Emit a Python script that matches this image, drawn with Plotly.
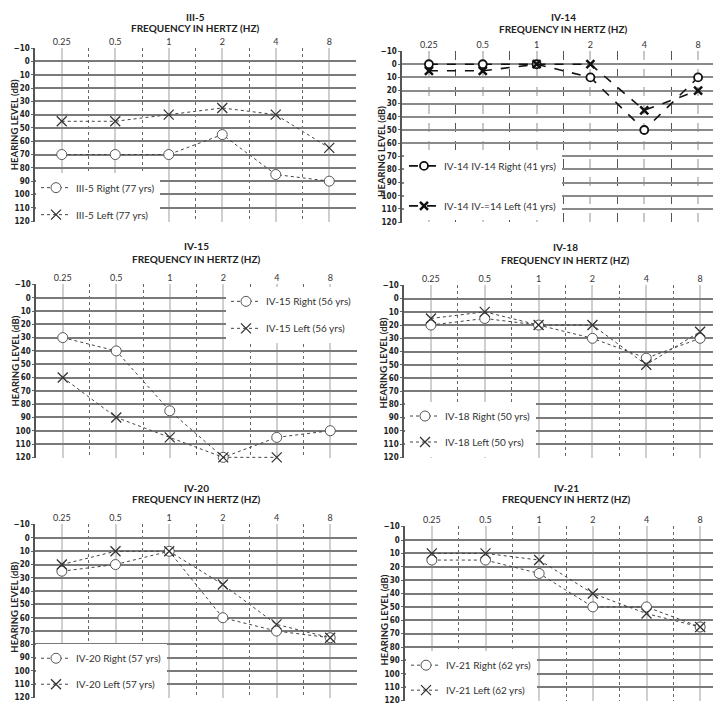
import plotly.graph_objects as go

W, H = 721, 704

freq_labels = ["0.25", "0.5", "1", "2", "4", "8"]
db_ticks = list(range(-10, 130, 10))

panel_names = ["III-5", "IV-14", "IV-15", "IV-18", "IV-20", "IV-21"]

right_vals = [
    [70, 70, 70, 55, 85, 90],
    [0, 0, 0, 10, 50, 10],
    [30, 40, 85, 120, 105, 100],
    [20, 15, 20, 30, 45, 30],
    [25, 20, 10, 60, 70, 75],
    [15, 15, 25, 50, 50, 65],
]
left_vals = [
    [45, 45, 40, 35, 40, 65],
    [5, 5, 0, 0, 35, 20],
    [60, 90, 105, 120, 120, None],
    [15, 10, 20, 20, 50, 25],
    [20, 10, 10, 35, 65, 75],
    [10, 10, 15, 40, 55, 65],
]
right_names = ["III-5 Right (77 yrs)", "IV-14 IV-14 Right (41 yrs)", "IV-15 Right (56 yrs)",
               "IV-18 Right (50 yrs)", "IV-20 Right (57 yrs)", "IV-21 Right (62 yrs)"]
left_names = ["III-5 Left (77 yrs)", "IV-14 IV-=14 Left (41 yrs)", "IV-15 Left (56 yrs)",
              "IV-18 Left (50 yrs)", "IV-20 Left (57 yrs)", "IV-21 Left (62 yrs)"]

# layout (pixel boxes): x0, x1, ytop, ybot
boxes = [
    (27, 348, 36, 212),
    (394, 717, 39, 213),
    (28, 349, 275, 451),
    (396, 719, 276, 451),
    (27, 349, 518, 694),
    (397, 719, 520, 697),
]
title_off = [(-31, -20), (-34, -22), (-38, -25), (-38, -25), (-37, -25), (-39, -27)]
ytitle_center = [114, 141, 353, 355, 602, 615]
# legend: x px, y top px, anchor, gap
legend_pos = [
    (28, 163, "left", 8),
    (396, 141, "left", 21),
    (349, 278, "right", 8),
    (397, 394, "left", 7),
    (28, 639, "left", 7),
    (398, 646, "left", 6),
]

FONT = "Lato"
TICKFONT = "Liberation Sans Narrow, DejaVu Sans Condensed, Lato"
fig = go.Figure()
annotations = []

for i in range(6):
    k = i + 1
    xs = "" if k == 1 else str(k)
    x0, x1, yt, yb = boxes[i]
    dash14 = (i == 1)
    leg = "legend" if k == 1 else f"legend{k}"
    xvals = list(range(6))
    if dash14:
        lstyle = dict(color="#111", width=1.6, dash="dash")
        mr = dict(symbol="circle", size=8, color="white", line=dict(color="#111", width=1.8))
        ml = dict(symbol="x-thin", size=8, color="#111", line=dict(color="#111", width=2.5))
    else:
        lstyle = dict(color="#444", width=1, dash="dot")
        mr = dict(symbol="circle", size=10, color="white", line=dict(color="#555", width=1))
        ml = dict(symbol="x-thin", size=10, color="#333", line=dict(color="#333", width=1.3))
    fig.add_trace(go.Scatter(x=xvals, y=right_vals[i], mode="lines+markers", name=right_names[i],
                             line=lstyle, marker=mr, xaxis="x" + xs, yaxis="y" + xs,
                             legend=leg, legendgroup=f"r{k}", cliponaxis=False, connectgaps=False))
    fig.add_trace(go.Scatter(x=xvals, y=left_vals[i], mode="lines+markers", name=left_names[i],
                             line=lstyle, marker=ml, xaxis="x" + xs, yaxis="y" + xs,
                             legend=leg, legendgroup=f"l{k}", cliponaxis=False, connectgaps=False))

    xdom = [x0 / W, x1 / W]
    ydom = [1 - yb / H, 1 - yt / H]
    if dash14:
        hgrid = dict(gridcolor="#8a8a8a", gridwidth=1.5)
        vmaj = dict(gridcolor="#c8c8c8", gridwidth=1.5, griddash="dash")
        vmin = dict(gridcolor="#555", gridwidth=1, griddash="dash")
    else:
        hgrid = dict(gridcolor="#7a7a7a", gridwidth=2)
        vmaj = dict(gridcolor="#cfcfcf", gridwidth=2, griddash="solid")
        vmin = dict(gridcolor="#666", gridwidth=1, griddash="dot")
    fig.layout["xaxis" + xs] = dict(
        domain=xdom, anchor="y" + xs, range=[-0.5, 5.5], side="top",
        tickmode="array", tickvals=xvals, ticktext=freq_labels,
        tickfont=dict(family=FONT, size=9, color="#333"), ticks="",
        showgrid=True, **vmaj, zeroline=False, showline=False,
        minor=dict(tickvals=[0.5, 1.5, 2.5, 3.5, 4.5], showgrid=True, ticks="", **vmin),
    )
    fig.layout["yaxis" + xs] = dict(
        domain=ydom, anchor="x" + xs, range=[120.4, -10.4],
        tickmode="array", tickvals=db_ticks,
        tickfont=dict(family=TICKFONT, size=8, color="#222", weight="bold"),
        ticks="outside", ticklen=2, tickcolor="#666", tickwidth=1,
        showgrid=True, **hgrid, zeroline=False,
        showline=True, linecolor="#555", linewidth=1.5,
    )
    to, fo = title_off[i]
    annotations.append(dict(text=f"<b>{panel_names[i]}</b>", x=0.5, xref=f"x{xs} domain",
                            y=1 - (yt + to) / H, yref="paper", showarrow=False,
                            font=dict(family=FONT, size=10, color="#222"), yanchor="middle"))
    annotations.append(dict(text="<b>FREQUENCY IN HERTZ (HZ)</b>", x=0.5, xref=f"x{xs} domain",
                            y=1 - (yt + fo) / H, yref="paper", showarrow=False,
                            font=dict(family=FONT, size=10, color="#222"), yanchor="middle"))
    annotations.append(dict(text="<b>HEARING LEVEL (dB)</b>", x=(x0 - 20.5) / W, xref="paper",
                            y=1 - ytitle_center[i] / H, yref="paper", showarrow=False, textangle=-90,
                            font=dict(family=FONT, size=9.5, color="#222"), xanchor="center",
                            yanchor="middle"))

    lx, ly, anc, gap = legend_pos[i]
    fig.layout[leg] = dict(
        x=lx / W, y=1 - ly / H, xref="paper", yref="paper", xanchor=anc, yanchor="top",
        bgcolor="white", borderwidth=0, tracegroupgap=gap,
        font=dict(family=FONT, size=10, color="#333"),
        itemwidth=30, traceorder="grouped",
    )

fig.update_layout(
    width=W, height=H, margin=dict(l=0, r=0, t=0, b=0),
    paper_bgcolor="white", plot_bgcolor="white",
    annotations=annotations, showlegend=True,
)

fig.write_html("out.html")
